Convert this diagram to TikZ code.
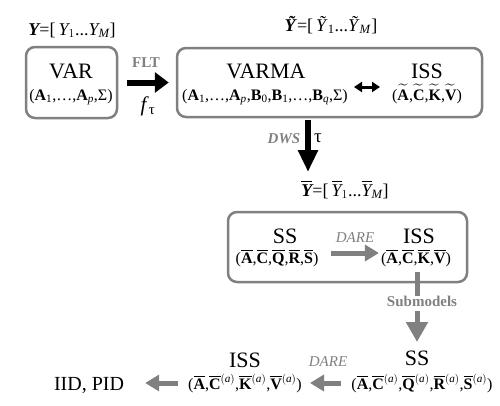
\documentclass[tikz,border=0pt]{standalone}
\usepackage{amsmath}
\usepackage{fontspec}
\setmainfont{Liberation Serif}
\usetikzlibrary{arrows.meta,positioning}
\definecolor{modelgray}{RGB}{128,128,128}
\newcommand{\ob}[1]{\ensuremath{\overline{\text{\bfseries #1}}}}
\newcommand{\tb}[1]{\ensuremath{\widetilde{\text{\bfseries #1}}}}
\newcommand{\sa}{\ensuremath{^{(\text{\itshape a})}}}
\newcommand{\iY}{\text{\itshape Y}}
\newcommand{\bY}{\text{\bfseries\itshape Y}}
\tikzset{
  modelbox/.style={draw=modelgray,line width=2.5pt,rounded corners=9pt},
  title/.style={font=\fontsize{22}{24}\selectfont,inner sep=0pt,anchor=base},
  params/.style={font=\fontsize{16}{18}\selectfont,inner sep=0pt,anchor=base},
  seqlabel/.style={font=\fontsize{18}{20}\selectfont,inner sep=0pt,anchor=base},
  steplabel/.style={font=\fontsize{15}{17}\selectfont\bfseries,text=modelgray,inner sep=0pt},
  blkarrow/.style={line width=6pt,-{Triangle[length=14pt,width=20pt]}},
  gryarrow/.style={modelgray,line width=5pt,-{Triangle[length=14pt,width=16pt]}},
}
\begin{document}
\begin{tikzpicture}[x=1pt,y=-1pt]
\useasboundingbox (0,0) rectangle (500,405);
% boxes
\node[modelbox,minimum width=91pt,minimum height=71pt] (varbox) at (71.5,82.5) {};
\node[modelbox,minimum width=305pt,minimum height=69pt] (bigbox) at (329.5,82.5) {};
\node[modelbox,minimum width=239pt,minimum height=70pt] (subbox) at (347.5,247) {};
% sequences
\node[seqlabel] (yseq) at (72,35) {$\bY$=[\,$\iY_{1}$...$\iY_{\text{\itshape M}}$]};
\node[seqlabel] (ytilde) at (331,31) {\textbf{\textit{\~Y}}=[\,\textit{\~Y}\textsubscript{1}...\textit{\~Y}\textsubscript{\textit{M}}]};
\node[seqlabel] (ybar) at (345,196) {$\overline{\bY}$=[\,$\overline{\iY}_{1}$...$\overline{\iY}_{\text{\itshape M}}$]};
% top row
\node[title] (var) at (71,78) {VAR};
\node[params] (varpar) at (71,100) {(\textbf{A}\textsubscript{1},\dots,\textbf{A}\textsubscript{\textit{p}},Σ)};
\node[title] (varma) at (266,78) {VARMA};
\node[params] (varmapar) at (265,100) {(\textbf{A}\textsubscript{1},\dots,\textbf{A}\textsubscript{\textit{p}},\textbf{B}\textsubscript{0},\textbf{B}\textsubscript{1},\dots,\textbf{B}\textsubscript{\textit{q}},Σ)};
\node[title] (isst) at (427,78) {ISS};
\node[params] (isstpar) at (427,100) {(\tb{A},\tb{C},\tb{K},\tb{V})};
% middle box
\node[title] (ssb) at (285,243) {SS};
\node[params] (ssbpar) at (277,263) {(\ob{A},\ob{C},\ob{Q},\ob{R},\ob{S})};
\node[title] (issb) at (419,243) {ISS};
\node[params] (issbpar) at (416,263) {(\ob{A},\ob{C},\ob{K},\ob{V})};
% bottom row
\node[title] (ssa) at (417,365) {SS};
\node[params] (ssapar) at (422,389) {(\ob{A},\ob{C}\sa,\ob{Q}\sa,\ob{R}\sa,\ob{S}\sa)};
\node[title] (issa) at (245,367) {ISS};
\node[params] (issapar) at (245,389) {(\ob{A},\ob{C}\sa,\ob{K}\sa,\ob{V}\sa)};
\node[title,font=\fontsize{20}{22}\selectfont] (idpid) at (89,390) {IID, PID};
% step labels
\node[steplabel] (flt) at (146,63) {FLT};
\node[inner sep=0pt,font=\fontsize{21}{23}\selectfont] (ftau) at (148,106) {\textit{f}\textsubscript{τ}};
\node[steplabel,font=\fontsize{15}{17}\selectfont\bfseries\itshape] (dws) at (284,139) {DWS};
\node[inner sep=0pt,font=\fontsize{19}{21}\selectfont] (tau) at (318,138) {τ};
\node[steplabel,font=\fontsize{15}{17}\selectfont\itshape] (dare1) at (355,238) {DARE};
\node[steplabel] (submod) at (422,301) {Submodels};
\node[steplabel,font=\fontsize{15}{17}\selectfont\itshape] (dare2) at (328,362) {DARE};
% connectors
\coordinate (dwstop) at (308,120);
\coordinate (dwstip) at (308,172);
\coordinate (subtop) at (417,272);
\draw[blkarrow,shorten <=9pt,shorten >=7pt] (varbox.east) -- (varbox.east -| bigbox.west);
\draw[line width=3pt,{Triangle[length=8pt,width=10pt]}-{Triangle[length=8pt,width=10pt]}] (354,87) -- (380,87);
\draw[line width=6pt,-{Triangle[length=22pt,width=19pt]}] (dwstop) -- (dwstip);
\draw[gryarrow,shorten <=12pt,shorten >=2pt] (ssbpar.east |- 253,253) -- (issbpar.west |- 253,253);
\draw[modelgray,line width=5pt] (subtop) -- (submod.north -| subtop);
\draw[gryarrow,-{Triangle[length=20pt,width=21pt]}] (submod.south -| subtop) ++(0,4) -- (417,342);
\draw[gryarrow,shorten <=10pt,shorten >=8pt] (ssapar.west |- 383,383) -- (issapar.east |- 383,383);
\draw[gryarrow,shorten <=10pt,shorten >=21pt] (issapar.west |- 383,383) -- (idpid.east |- 383,383);
\end{tikzpicture}
\end{document}
